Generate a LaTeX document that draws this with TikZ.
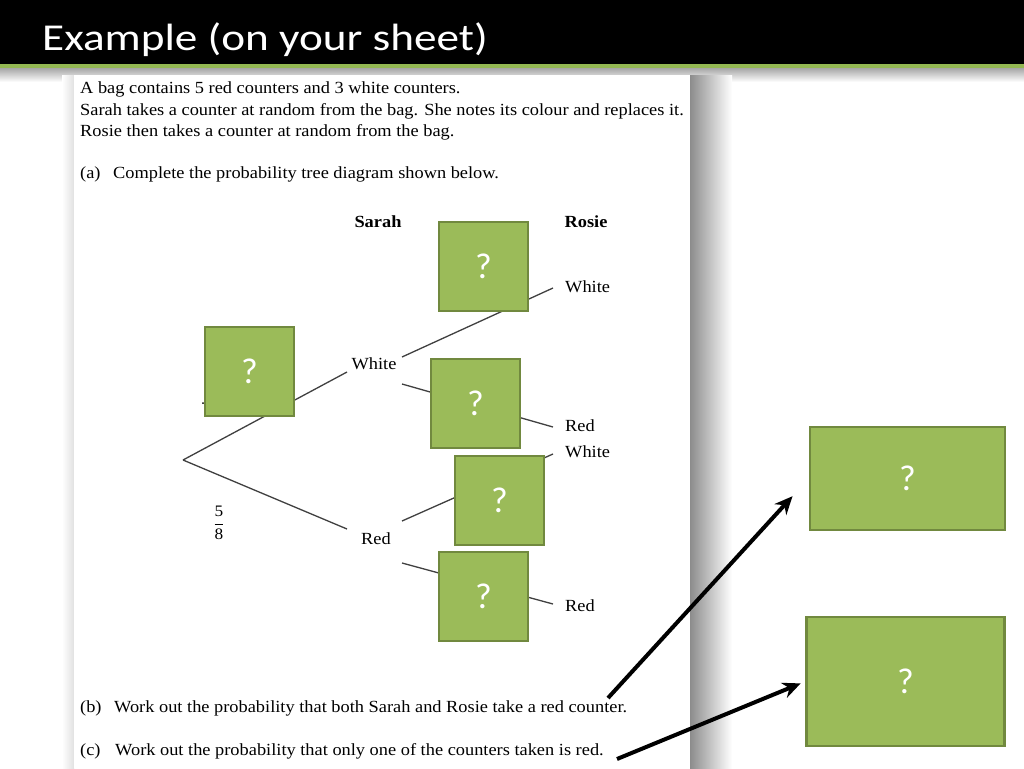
\documentclass[tikz,border=0pt]{standalone}
\usepackage{fontspec}
\setmainfont{Liberation Serif}[FakeStretch=1.08]
\newfontfamily\slidefont{Carlito}
\newfontfamily\titlefont{Carlito}[FakeStretch=1.19]
\usetikzlibrary{arrows.meta}
\definecolor{boxgreen}{HTML}{9BBB59}
\definecolor{boxedge}{HTML}{71893F}
\definecolor{barline}{HTML}{93B752}
\tikzset{
	qbox/.style={draw=boxedge, line width=2.5pt, fill=boxgreen, text=white, inner sep=0pt,
		font=\slidefont\fontsize{36}{40}\selectfont, minimum width=89pt, minimum height=89pt},
	sheettext/.style={anchor=base west, inner sep=0pt, font=\fontsize{17}{20}\selectfont},
	branch/.style={line width=1.3pt, color=black!75},
	pointer/.style={line width=4pt, -{Stealth[length=18pt,width=16pt]}}
}

\begin{document}
\begin{tikzpicture}[x=1pt, y=-1pt]
		%%%%% START %%%%%
		\useasboundingbox (0,0) rectangle (1024,768);
		\fill[white] (0,0) rectangle (1024,768);
		
		% title bar
		\fill[black] (0,0) rectangle (1024,64);
		\fill[barline] (0,64) rectangle (1024,68);
		\shade[top color=black!35, bottom color=white] (0,68) rectangle (1024,82);
		\node[anchor=base west, inner sep=0pt, text=white, font=\titlefont\fontsize{38}{44}\selectfont] (title) at (42,50) {Example (on your sheet)};
		
		% the sheet
		\shade[left color=white, right color=black!12] (62,75) rectangle (74,768);
		\shade[left color=black!45, right color=white] (690,75) rectangle (732,768);
		\fill[white] (74,75) rectangle (690,768);
		
		\node[sheettext] (line1) at (80,93) {A bag contains 5 red counters and 3 white counters.};
		\node[sheettext] (line2) at (80,115) {Sarah takes a counter at random from the bag. She notes its colour and replaces it.};
		\node[sheettext] (line3) at (80,136) {Rosie then takes a counter at random from the bag.};
		\node[sheettext] (parta) at (80,178) {\makebox[33pt][l]{(a)}Complete the probability tree diagram shown below.};
		\node[sheettext] (partb) at (80,712) {\makebox[34pt][l]{(b)}Work out the probability that both Sarah and Rosie take a red counter.};
		\node[sheettext] (partc) at (80,755) {\makebox[35pt][l]{(c)}Work out the probability that only one of the counters taken is red.};
		
		% tree
		\node[anchor=base, font=\bfseries\fontsize{17}{20}\selectfont] (sarah) at (378,227) {Sarah};
		\node[anchor=base, font=\bfseries\fontsize{17}{20}\selectfont] (rosie) at (586,227) {Rosie};
		
		\coordinate (root) at (183,460);
		\coordinate (sw-in) at (347,372);
		\coordinate (sr-in) at (347,529);
		\coordinate (sw-up) at (402,357);
		\coordinate (sw-dn) at (402,384);
		\coordinate (sr-up) at (402,521);
		\coordinate (sr-dn) at (402,563);
		\coordinate (ww-in) at (553,288);
		\coordinate (wr-in) at (553,427);
		\coordinate (rw-in) at (553,454);
		\coordinate (rr-in) at (553,604);
		
		\draw[branch] (root) -- (sw-in);
		\draw[branch] (root) -- (sr-in);
		\draw[branch] (sw-up) -- (ww-in);
		\draw[branch] (sw-dn) -- (wr-in);
		\draw[branch] (sr-up) -- (rw-in);
		\draw[branch] (sr-dn) -- (rr-in);
		
		\node[anchor=base, font=\fontsize{17}{20}\selectfont] (sw) at (374,369) {White};
		\node[anchor=base, font=\fontsize{17}{20}\selectfont] (sr) at (376,544) {Red};
		\node[sheettext] (ww) at (565,292) {White};
		\node[sheettext] (wr) at (565,431) {Red};
		\node[sheettext] (rw) at (565,457) {White};
		\node[sheettext] (rr) at (565,611) {Red};
		
		\node[font=\fontsize{16}{20}\selectfont] (red-prob) at (219,523) {$\displaystyle\frac{\mbox{5}}{\mbox{8}}$};
		\fill (203,403) circle (1pt);
		
		% answer boxes
		\node[qbox] (q1) at (249.5,371.5) {?};
		\node[qbox] (q2) at (483.5,266.5) {?};
		\node[qbox] (q3) at (475.5,403.5) {?};
		\node[qbox] (q4) at (499.5,500.5) {?};
		\node[qbox] (q5) at (483.5,596.5) {?};
		\node[qbox, minimum width=195pt, minimum height=103pt] (ans1) at (907.5,478.5) {?};
		\node[qbox, minimum width=198pt, minimum height=129pt] (ans2) at (905.5,681.5) {?};
		
		% arrows from the questions
		\coordinate (bstart) at (608,698);
		\coordinate (cstart) at (617,759);
		\draw[pointer, shorten >=24pt] (bstart) -- (ans1.west);
		\draw[pointer, shorten >=5pt] (cstart) -- (ans2.west);
		
		%%%%% END %%%%%
\end{tikzpicture}
\end{document}
